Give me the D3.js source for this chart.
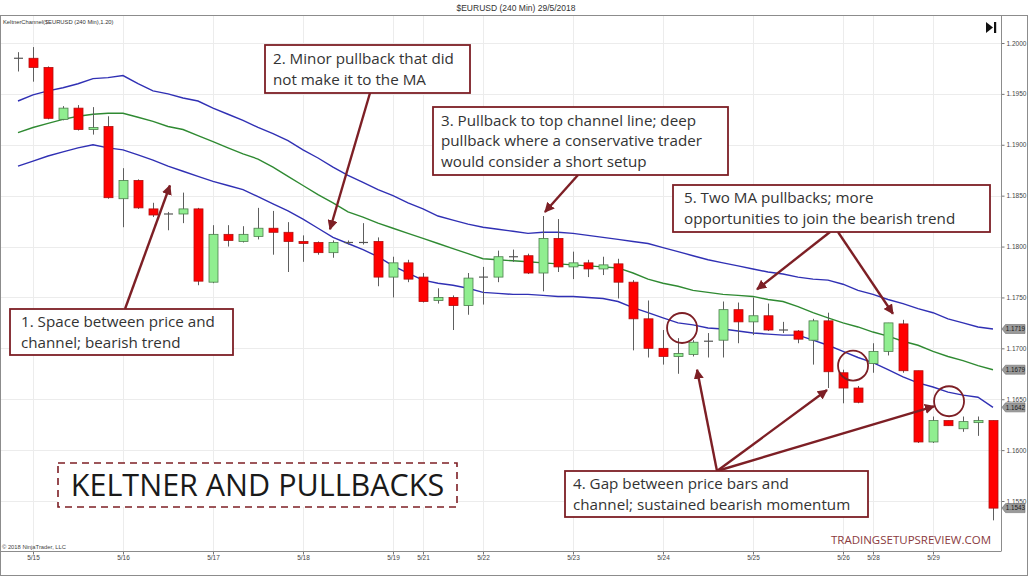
<!DOCTYPE html>
<html><head><meta charset="utf-8">
<script src="https://cdn.jsdelivr.net/npm/d3@7/dist/d3.min.js"></script>
<style>
html,body{margin:0;padding:0;background:#fff;}
svg{display:block;font-family:"Open Sans",sans-serif;}
</style></head><body>
<svg id="chart" width="1030" height="577"></svg>
<script>
// ---------- data (EUR/USD 240 min bars) ----------
const dateLabels = ["5/15","5/16","5/17","5/18","5/19","5/21","5/22","5/23","5/24","5/25","5/26","5/28","5/29"];
const dateBars   = [1,7,13,19,25,27,31,37,43,49,55,57,61];
const priceTicks = [1.2000,1.1950,1.1900,1.1850,1.1800,1.1750,1.1700,1.1650,1.1600,1.1550];

const open  = [1.1985,1.1985,1.1976,1.1925,1.1936,1.1915,1.1918,1.1847,1.1865,1.1837,
               1.1832,1.1832,1.1837,1.1765,1.1812,1.1805,1.1810,1.1818,1.1814,1.1805,
               1.1804,1.1794,1.1804,1.1804,1.1805,1.1770,1.1784,1.1770,1.1747,1.1750,
               1.1742,1.1770,1.1770,1.1790,1.1791,1.1774,1.1808,1.1780,1.1784,1.1778,
               1.1783,1.1765,1.1729,1.1700,1.1692,1.1694,1.1707,1.1708,1.1738,1.1726,
               1.1732,1.1718,1.1717,1.1708,1.1727,1.1676,1.1661,1.1685,1.1697,1.1724,
               1.1678,1.1608,1.1629,1.1621,1.1627,1.1629];
const high  = [1.1991,1.1996,1.1977,1.1938,1.1939,1.1937,1.1928,1.1877,1.1866,1.1843,
               1.1834,1.1853,1.1838,1.1821,1.1821,1.1820,1.1838,1.1835,1.1824,1.1811,
               1.1805,1.1806,1.1806,1.1823,1.1809,1.1790,1.1787,1.1774,1.1759,1.1752,
               1.1774,1.1780,1.1796,1.1797,1.1793,1.1830,1.1827,1.1795,1.1787,1.1790,
               1.1788,1.1767,1.1747,1.1718,1.1710,1.1708,1.1715,1.1746,1.1745,1.1750,
               1.1744,1.1726,1.1718,1.1729,1.1735,1.1679,1.1663,1.1705,1.1725,1.1728,
               1.1678,1.1633,1.1629,1.1633,1.1633,1.1629];
const low   = [1.1972,1.1962,1.1925,1.1924,1.1914,1.1910,1.1847,1.1819,1.1837,1.1829,
               1.1816,1.1823,1.1762,1.1764,1.1800,1.1804,1.1807,1.1792,1.1775,1.1785,
               1.1792,1.1789,1.1802,1.1802,1.1761,1.1750,1.1765,1.1745,1.1744,1.1718,
               1.1733,1.1743,1.1765,1.1785,1.1773,1.1756,1.1775,1.1768,1.1770,1.1772,
               1.1749,1.1698,1.1691,1.1684,1.1675,1.1692,1.1691,1.1691,1.1705,1.1713,
               1.1717,1.1715,1.1705,1.1684,1.1661,1.1646,1.1646,1.1676,1.1693,1.1676,
               1.1607,1.1607,1.1624,1.1618,1.1614,1.1531];
const close = [1.1985,1.1976,1.1926,1.1936,1.1915,1.1917,1.1848,1.1865,1.1838,1.1831,
               1.1832,1.1837,1.1766,1.1812,1.1806,1.1812,1.1818,1.1814,1.1805,1.1803,
               1.1794,1.1804,1.1804,1.1804,1.1770,1.1784,1.1768,1.1746,1.1750,1.1742,
               1.1769,1.1770,1.1790,1.1790,1.1774,1.1808,1.1780,1.1784,1.1778,1.1782,
               1.1765,1.1729,1.1700,1.1692,1.1695,1.1706,1.1707,1.1738,1.1726,1.1732,
               1.1718,1.1718,1.1709,1.1727,1.1677,1.1661,1.1647,1.1697,1.1725,1.1678,
               1.1608,1.1629,1.1624,1.1628,1.1629,1.1543];

const upperBand  = [1.1943,1.1949,1.1953,1.1956,1.1960,1.1965,1.1966,1.1968,1.1960,1.1953,
                    1.1950,1.1946,1.1943,1.1936,1.1930,1.1924,1.1917,1.1911,1.1904,1.1895,
                    1.1887,1.1878,1.1870,1.1863,1.1856,1.1850,1.1843,1.1837,1.1830,1.1826,
                    1.1822,1.1819,1.1817,1.1815,1.1813,1.1814,1.1814,1.1813,1.1811,1.1809,
                    1.1807,1.1805,1.1803,1.1799,1.1795,1.1791,1.1787,1.1784,1.1781,1.1778,
                    1.1775,1.1773,1.1770,1.1768,1.1767,1.1763,1.1757,1.1753,1.1748,1.1744,
                    1.1739,1.1735,1.1729,1.1725,1.1721,1.1719];
const middleBand = [1.1912,1.1917,1.1921,1.1925,1.1928,1.1930,1.1931,1.1931,1.1927,1.1923,
                    1.1918,1.1915,1.1909,1.1903,1.1897,1.1891,1.1886,1.1878,1.1869,1.1860,
                    1.1851,1.1843,1.1834,1.1829,1.1823,1.1818,1.1813,1.1808,1.1803,1.1798,
                    1.1793,1.1788,1.1787,1.1786,1.1785,1.1784,1.1783,1.1782,1.1781,1.1780,
                    1.1779,1.1774,1.1768,1.1764,1.1761,1.1757,1.1755,1.1753,1.1752,1.1751,
                    1.1748,1.1746,1.1741,1.1735,1.1730,1.1725,1.1721,1.1716,1.1712,1.1707,
                    1.1703,1.1697,1.1692,1.1688,1.1683,1.1679];
const lowerBand  = [1.1879,1.1884,1.1889,1.1893,1.1897,1.1900,1.1897,1.1895,1.1890,1.1885,
                    1.1879,1.1874,1.1869,1.1864,1.1860,1.1856,1.1849,1.1842,1.1835,1.1827,
                    1.1818,1.1809,1.1803,1.1797,1.1790,1.1781,1.1774,1.1767,1.1764,1.1762,
                    1.1759,1.1755,1.1754,1.1753,1.1753,1.1752,1.1751,1.1751,1.1750,1.1749,
                    1.1746,1.1740,1.1735,1.1730,1.1725,1.1723,1.1720,1.1719,1.1717,1.1715,
                    1.1714,1.1713,1.1713,1.1708,1.1703,1.1697,1.1691,1.1686,1.1679,1.1672,
                    1.1666,1.1662,1.1657,1.1654,1.1652,1.1642];

// annotations (arrow tips / circles anchored in bar index + price)
const circles = [[44.27,1.1720],[55.67,1.1683],[62.07,1.1648]];
const notes = [
  {lines:["1. Space between price and","channel; bearish trend"], box:[10,309,223,46], pad:11, tails:[[125,309]], tips:[[10.13,1.1860]]},
  {lines:["2. Minor pullback that did","not make it to the MA"], box:[265,45,205,48], pad:8, tails:[[370,93]], tips:[[20.8,1.1817]]},
  {lines:["3. Pullback to top channel line; deep","pullback where a conservative trader","would consider a short setup"], box:[433,107,295,68], pad:8, tails:[[578,175]], tips:[[35.13,1.1834]]},
  {lines:["5. Two MA pullbacks; more","opportunities to join the bearish trend"], box:[673,185,317,47], pad:11, tails:[[830,232],[838,232]], tips:[[49.27,1.1758],[58.33,1.1734]]},
  {lines:["4. Gap between price bars and","channel; sustained bearish momentum"], box:[565,471,303,46], pad:8, tails:[[717,471],[717,471],[717,471]], tips:[[45.27,1.1679],[53.93,1.1659],[61.07,1.1643]]}
];

// ---------- drawing ----------
const svg = d3.select("#chart");
const W = 1030, H = 577;
const plot = {left:1, top:16, right:1001, bottom:551};
const x = d3.scaleLinear().domain([0, open.length-1]).range([18, 993]);
const y = d3.scaleLinear().domain([1.1550, 1.2000]).range([501, 43]);
const darkRed = "#7d1f25";
const smallFont = "Arial, 'Liberation Sans', sans-serif";

svg.append("rect").attr("width",W).attr("height",H).attr("fill","#fff");

// title
svg.append("text").attr("x",516).attr("y",11).attr("text-anchor","middle")
  .attr("font-family",smallFont).attr("font-size",8.5).attr("fill","#333")
  .text("$EURUSD (240 Min)  29/5/2018");

// outer frame
svg.append("rect").attr("x",0.5).attr("y",15.5).attr("width",1027).attr("height",560)
  .attr("fill","none").attr("stroke","#8c8c8c").attr("stroke-width",1);

const defs = svg.append("defs");
defs.append("clipPath").attr("id","plotclip").append("rect")
  .attr("x",plot.left).attr("y",plot.top).attr("width",plot.right-plot.left).attr("height",plot.bottom-plot.top);

// grid
const grid = svg.append("g");
grid.selectAll(".vg").data(dateBars).join("line")
  .attr("x1",d=>x(d)+0.5).attr("x2",d=>x(d)+0.5).attr("y1",plot.top).attr("y2",plot.bottom)
  .attr("stroke","#ececec").attr("stroke-width",1);
grid.selectAll(".hg").data(priceTicks).join("line")
  .attr("x1",plot.left).attr("x2",plot.right).attr("y1",d=>Math.round(y(d))+0.5).attr("y2",d=>Math.round(y(d))+0.5)
  .attr("stroke","#ececec").attr("stroke-width",1);

// axes
const yAxis = d3.axisRight(y).tickValues(priceTicks).tickFormat(d3.format(".4f")).tickSize(3).tickPadding(2);
const gy = svg.append("g").attr("transform",`translate(${plot.right+0.5},0)`).call(yAxis);
gy.select(".domain").remove();
gy.selectAll("line").attr("stroke","#777");
gy.selectAll("text").attr("font-family",smallFont).attr("font-size",6.5).attr("fill","#444");
svg.append("line").attr("x1",plot.right+0.5).attr("x2",plot.right+0.5).attr("y1",plot.top).attr("y2",plot.bottom)
  .attr("stroke","#8c8c8c");

const xAxis = d3.axisBottom(x).tickValues(dateBars).tickFormat((d,i)=>dateLabels[i]).tickSize(3).tickPadding(1);
const gx = svg.append("g").attr("transform",`translate(0,${plot.bottom+0.5})`).call(xAxis);
gx.select(".domain").remove();
gx.selectAll("line").attr("stroke","#777");
gx.selectAll("text").attr("font-family",smallFont).attr("font-size",6.5).attr("fill","#444");
svg.append("line").attr("x1",0).attr("x2",plot.right+0.5).attr("y1",plot.bottom+0.5).attr("y2",plot.bottom+0.5)
  .attr("stroke","#8c8c8c");

// indicator label & copyright
svg.append("text").attr("x",3).attr("y",24).attr("font-family",smallFont)
  .attr("font-size",5.8).attr("fill","#333").text("KeltnerChannel($EURUSD (240 Min),1.20)");
svg.append("text").attr("x",2).attr("y",549).attr("font-family",smallFont)
  .attr("font-size",5.8).attr("fill","#444").text("\u00A9 2018 NinjaTrader, LLC");

// play-to-end icon
svg.append("path").attr("d","M986,22 L993,27.5 L986,33 Z").attr("fill","#111");
svg.append("rect").attr("x",994).attr("y",22).attr("width",2.2).attr("height",11).attr("fill","#111");

const chartG = svg.append("g").attr("clip-path","url(#plotclip)");

// Keltner channel lines
const idx = d3.range(open.length);
const mk = arr => d3.line().x(i=>x(i)).y(i=>y(arr[i]))(idx);
chartG.append("path").attr("d",mk(upperBand)).attr("fill","none").attr("stroke","#3030b4").attr("stroke-width",1.4);
chartG.append("path").attr("d",mk(lowerBand)).attr("fill","none").attr("stroke","#3030b4").attr("stroke-width",1.4);
chartG.append("path").attr("d",mk(middleBand)).attr("fill","none").attr("stroke","#2f8a32").attr("stroke-width",1.4);

// candles
const bw = 9;
const cg = chartG.append("g");
cg.selectAll(".wick").data(idx).join("line")
  .attr("x1",i=>Math.round(x(i))+0.5).attr("x2",i=>Math.round(x(i))+0.5)
  .attr("y1",i=>y(high[i])).attr("y2",i=>y(low[i]))
  .attr("stroke","#5e5e5e").attr("stroke-width",1);
const isDoji = i => Math.abs(open[i]-close[i]) < 0.00005;
cg.selectAll(".body").data(idx.filter(i=>!isDoji(i))).join("rect")
  .attr("x",i=>Math.round(x(i))+0.5-bw/2).attr("width",bw)
  .attr("y",i=>y(Math.max(open[i],close[i])))
  .attr("height",i=>Math.max(1,Math.abs(y(open[i])-y(close[i]))))
  .attr("fill",i=>close[i]<open[i]?"#ff0000":"#90ee90")
  .attr("stroke",i=>close[i]<open[i]?"#b01010":"#4d7d4d").attr("stroke-width",0.8);
cg.selectAll(".doji").data(idx.filter(isDoji)).join("line")
  .attr("x1",i=>Math.round(x(i))+0.5-bw/2).attr("x2",i=>Math.round(x(i))+0.5+bw/2)
  .attr("y1",i=>y(open[i])).attr("y2",i=>y(open[i]))
  .attr("stroke","#555").attr("stroke-width",1.2);

// right-side value tags
const last = open.length-1;
const tags = [upperBand[last], middleBand[last], lowerBand[last], close[last]];
const tg = svg.append("g");
tags.forEach(v=>{
  const yy = y(v);
  tg.append("path").attr("d",`M1002,${yy} L1005.5,${yy-4.5} L1025,${yy-4.5} L1025,${yy+4.5} L1005.5,${yy+4.5} Z`)
    .attr("fill","#9a9a9a").attr("stroke","#6e6e6e").attr("stroke-width",0.6);
  tg.append("text").attr("x",1015.5).attr("y",yy+2.3).attr("text-anchor","middle")
    .attr("font-family",smallFont).attr("font-size",6.3).attr("fill","#1a1a1a")
    .text(d3.format(".4f")(v));
});

// annotations
defs.append("marker").attr("id","ah").attr("viewBox","0 0 10 10").attr("refX",9).attr("refY",5)
  .attr("markerWidth",4.2).attr("markerHeight",4.2).attr("orient","auto").attr("markerUnits","strokeWidth")
  .append("path").attr("d","M0,0 L10,5 L0,10 Z").attr("fill",darkRed);

const ag = svg.append("g");
notes.forEach(n=>{
  n.tails.forEach((t,k)=>{
    const tip = n.tips[k];
    ag.append("line").attr("x1",t[0]).attr("y1",t[1]).attr("x2",x(tip[0])).attr("y2",y(tip[1]))
      .attr("stroke",darkRed).attr("stroke-width",2.4).attr("marker-end","url(#ah)");
  });
});
circles.forEach(c=>{
  ag.append("circle").attr("cx",x(c[0])).attr("cy",y(c[1])).attr("r",15)
    .attr("fill","none").attr("stroke",darkRed).attr("stroke-width",1.8);
});
const noteFont = 15.2, lh = 20.8;
notes.forEach(n=>{
  const [bx,by,bwid,bh] = n.box;
  ag.append("rect").attr("x",bx).attr("y",by).attr("width",bwid).attr("height",bh)
    .attr("fill","#fff").attr("stroke",darkRed).attr("stroke-width",1.8);
  const startY = by + bh/2 - (n.lines.length-1)*lh/2 + 5.3;
  n.lines.forEach((l,k)=>{
    ag.append("text").attr("x",bx+n.pad).attr("y",startY+k*lh)
      .attr("font-size",noteFont).attr("fill","#333").text(l);
  });
});

// title box
ag.append("rect").attr("x",58).attr("y",463).attr("width",399).attr("height",44)
  .attr("fill","#fff").attr("stroke",darkRed).attr("stroke-width",1.6).attr("stroke-dasharray","7,5");
ag.append("text").attr("x",257.5).attr("y",496).attr("text-anchor","middle").attr("font-size",30.5)
  .attr("fill","#1a1a1a").text("KELTNER AND PULLBACKS");

// watermark
ag.append("text").attr("x",991).attr("y",544).attr("text-anchor","end").attr("font-size",11.5)
  .attr("fill","#8a3a3e").text("TRADINGSETUPSREVIEW.COM");
</script>
</body></html>
